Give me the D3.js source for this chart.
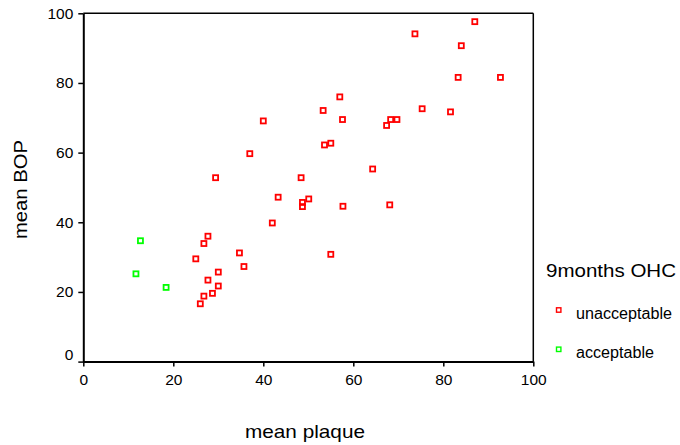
<!DOCTYPE html>
<html>
<head>
<meta charset="utf-8">
<script src="https://cdn.jsdelivr.net/npm/d3@7"></script>
<style>
	body { margin: 0; background: #fff; }
	text { font-family: "Liberation Sans", Arial, sans-serif; fill: #000; }
</style>
</head>
<body>
<div id="chart-area"></div>
<script>
// groups of the legend
let groups = ["unacceptable", "acceptable"];
let groupColors = ["#ff0000", "#00ff00"];

// 9months OHC = unacceptable
let unaccPlaque = [87.0, 73.7, 84.0, 83.3, 92.7, 57.0, 75.3, 53.3, 81.6, 57.6, 68.3, 69.7, 40.0,
	67.4, 55.0, 53.6, 37.0, 64.3, 29.4, 48.4, 43.3, 50.1, 48.7, 48.7, 57.7, 68.1, 42.0, 27.7,
	26.8, 25.0, 34.7, 35.7, 55.0, 30.0, 27.7, 30.0, 28.7, 26.8, 26.0];
let unaccBop = [97.6, 94.1, 90.7, 81.6, 81.6, 76.0, 72.6, 72.1, 71.7, 69.5, 69.5, 69.5, 69.1,
	67.8, 62.7, 62.2, 59.7, 55.3, 52.8, 52.8, 47.2, 46.7, 45.7, 44.5, 44.6, 45.0, 39.8, 36.0,
	33.9, 29.5, 31.2, 27.3, 30.8, 25.7, 23.4, 21.7, 19.6, 18.8, 16.6];

// 9months OHC = acceptable
let accPlaque = [12.7, 11.7, 18.4];
let accBop = [34.7, 25.2, 21.3];

let xTicks = [0, 20, 40, 60, 80, 100];
let yTicks = [0, 20, 40, 60, 80, 100];

let margin = { left: 83.3, top: 13.3, right: 146.7, bottom: 83.4 };
let width = 680 - margin.left - margin.right;
let height = 445 - margin.top - margin.bottom;

let svg = d3.select("#chart-area")
	.append("svg")
	.attr("width", 680)
	.attr("height", 445);

let g = svg.append("g")
	.attr("transform", `translate(${margin.left}, ${margin.top})`);

let x = d3.scaleLinear()
	.domain([0, 100])
	.range([0, width]);

let y = d3.scaleLinear()
	.domain([0, 100])
	.range([height, 0]);

// frame top and right
g.append("line")
	.attr("x1", 0).attr("x2", width)
	.attr("y1", 0).attr("y2", 0)
	.attr("stroke", "#000").attr("stroke-width", 1.5);
g.append("line")
	.attr("x1", width).attr("x2", width)
	.attr("y1", 0).attr("y2", height)
	.attr("stroke", "#000").attr("stroke-width", 1.5);

let xAxis = g.append("g")
	.attr("transform", `translate(0, ${height})`)
	.call(d3.axisBottom(x).tickValues(xTicks).tickSize(5).tickSizeOuter(0).tickPadding(7));

let yAxis = g.append("g")
	.call(d3.axisLeft(y).tickValues(yTicks).tickSize(5).tickSizeOuter(0).tickPadding(5));

[xAxis, yAxis].forEach(function(ax){
	ax.select(".domain").attr("stroke-width", 2);
	ax.selectAll(".tick line").attr("stroke-width", 1.5);
	ax.selectAll(".tick text")
		.attr("font-family", "Liberation Sans, Arial, sans-serif")
		.attr("font-size", "15.5px")
		.attr("fill", "#000");
});

// SPSS lifts the 0 of the y axis above the x axis line
yAxis.selectAll(".tick text")
	.filter(function(d){ return d === 0; })
	.attr("dy", "-0.15em");

// axis titles
svg.append("text")
	.attr("x", 305)
	.attr("y", 437.7)
	.attr("text-anchor", "middle")
	.attr("font-size", "19px")
	.attr("textLength", 120)
	.attr("lengthAdjust", "spacingAndGlyphs")
	.text("mean plaque");

svg.append("text")
	.attr("transform", "translate(27, 189.5) rotate(-90)")
	.attr("text-anchor", "middle")
	.attr("font-size", "18px")
	.attr("textLength", 99)
	.attr("lengthAdjust", "spacingAndGlyphs")
	.text("mean BOP");

// points
let series = [
	{ name: groups[0], plaque: unaccPlaque, bop: unaccBop },
	{ name: groups[1], plaque: accPlaque, bop: accBop }
];

series.forEach(function(s, i){
	let pts = s.plaque.map(function(p, j){ return { plaque: p, bop: s.bop[j] }; });
	g.append("g")
		.selectAll("rect")
		.data(pts)
		.enter().append("rect")
		.attr("x", function(d){ return x(d.plaque) - 2.5; })
		.attr("y", function(d){ return y(d.bop) - 2.5; })
		.attr("width", 5)
		.attr("height", 5)
		.attr("fill", "none")
		.attr("stroke", groupColors[i])
		.attr("stroke-width", 1.8);
});

// legend
let legend = svg.append("g")
	.attr("transform", "translate(546, 0)");

legend.append("text")
	.attr("x", 0)
	.attr("y", 276.7)
	.attr("font-size", "19px")
	.attr("textLength", 130)
	.attr("lengthAdjust", "spacingAndGlyphs")
	.text("9months OHC");

let legendY = [310, 349.3];
let legendLen = [96, 78];

groups.forEach(function(grp, i){
	let row = legend.append("g")
		.attr("transform", `translate(0, ${legendY[i]})`);
	row.append("rect")
		.attr("x", 12.7 - 2.2)
		.attr("y", -2.2)
		.attr("width", 4.4)
		.attr("height", 4.4)
		.attr("fill", "none")
		.attr("stroke", groupColors[i])
		.attr("stroke-width", 1.4);
	row.append("text")
		.attr("x", 30)
		.attr("y", 8.5)
		.attr("font-size", "16px")
		.attr("textLength", legendLen[i])
		.attr("lengthAdjust", "spacingAndGlyphs")
		.text(grp);
});
</script>
</body>
</html>
